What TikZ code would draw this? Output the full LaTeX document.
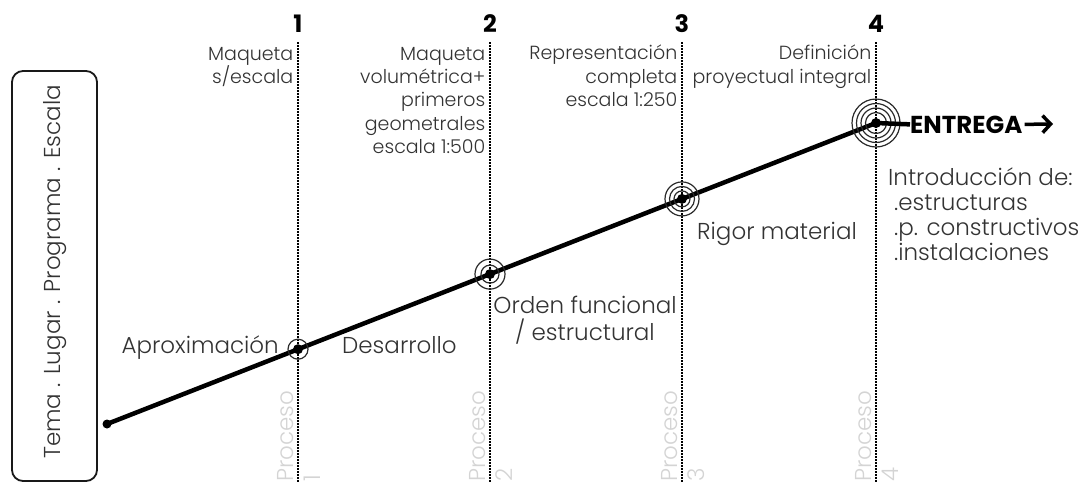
\documentclass[tikz,border=0pt]{standalone}
\usepackage{fontspec}
\setmainfont{Poppins}[UprightFont={* Light}, BoldFont={* Bold}]
\usetikzlibrary{arrows.meta}
\definecolor{labelgray}{HTML}{333333}
\definecolor{procgray}{HTML}{D4D4D4}
\definecolor{ringgray}{HTML}{2A2A2A}
\tikzset{
  lbl/.style={font=\fontsize{23}{27}\selectfont, text=labelgray, inner sep=0pt},
  toplbl/.style={font=\fontsize{19}{23.3}\selectfont, text=labelgray, align=right, anchor=north east, inner sep=0pt},
  num/.style={font=\bfseries\fontsize{24}{24}\selectfont, anchor=base, inner sep=0pt},
  proc/.style={font=\fontsize{23}{27}\selectfont, text=procgray, rotate=90, align=left, anchor=north west, inner sep=0pt},
  guide/.style={line width=2pt, dash pattern=on 1.5pt off 1.5pt},
  mainline/.style={line width=4.5pt},
  ring/.style={draw=ringgray, line width=1.2pt, circle, inner sep=0pt, minimum size=#1},
  ptdot/.style={circle, fill=black, inner sep=0pt, minimum size=#1},
}
\begin{document}
\begin{tikzpicture}[x=1pt,y=-1pt]
\useasboundingbox (0,0) rectangle (1082,483);
% left box
\node[draw=black!90, line width=1.8pt, rounded corners=11pt, minimum width=85pt, minimum height=410pt, inner sep=0pt] (box) at (54.5,276) {};
\node[lbl, rotate=90, anchor=base] (tema) at (60,272) {Tema . Lugar . Programa . Escala};
% guides
\foreach \i/\x in {1/298,2/490,3/682,4/876}{
  \coordinate (g\i t) at (\x,42);
  \coordinate (g\i b) at (\x,483);
  \draw[guide] (g\i t) -- (g\i b);
  \node[num] (n\i) at (\x,32) {\i};
  \node[proc] (pr\i) at (\x-21,482) {Proceso\\\i};
}
% top labels
\node[toplbl] (t1) at (293.5,47) {Maqueta\\s/escala};
\node[toplbl] (t2) at (485.5,47) {Maqueta\\volumétrica+\\primeros\hspace{5pt}\\geometrales\\escala 1:500};
\node[toplbl] (t3) at (677.5,45) {Representación\\completa\\escala 1:250};
\node[toplbl] (t4) at (871.5,45) {Definición\\proyectual integral};
% points
\node[ptdot=9pt] (p0) at (107,424) {};
\coordinate (p1) at (298,349.2);
\coordinate (p2) at (490,274.1);
\coordinate (p3) at (682,198.9);
\coordinate (p4) at (876,123);
\draw[mainline] (p0.center) -- (p4);
% rings
\node[ring=20pt] (r1a) at (p1) {};
\node[ring=18pt] (r2a) at (p2) {};
\node[ring=30pt] (r2b) at (p2) {};
\node[ring=16pt] (r3a) at (p3) {};
\node[ring=25pt] (r3b) at (p3) {};
\node[ring=34pt] (r3c) at (p3) {};
\node[ring=21pt] (r4a) at (p4) {};
\node[ring=30pt] (r4b) at (p4) {};
\node[ring=39pt] (r4c) at (p4) {};
\node[ring=48pt] (r4d) at (p4) {};
\foreach \i in {1,2,3,4}{ \node[ptdot=10pt] (d\i) at (p\i) {}; }
% entrega
\node[font=\bfseries\fontsize{24.5}{24.5}\selectfont, anchor=base west, inner sep=0pt] (entrega) at (910,133) {ENTREGA};
\draw[mainline] (d4.center) -- (entrega.west);
\coordinate (arrowend) at (1053,124);
\draw[line width=3.5pt, -{Straight Barb[length=8pt,width=17pt,line width=3.5pt]}] ([xshift=2pt]entrega.east) -- (arrowend);
% labels
\node[lbl, anchor=base east] (aprox) at (279,353) {Aproximación};
\node[lbl, anchor=base west] (desa) at (342,353) {Desarrollo};
\node[lbl, align=center, anchor=north] (orden) at (585,296) {Orden funcional\\/ estructural};
\node[lbl, anchor=base west] (rigor) at (697,239) {Rigor material};
\node[lbl, font=\fontsize{23}{25}\selectfont, align=left, anchor=north west] (intro) at (888,167) {Introducción de:\\\hspace{6pt}.estructuras\\\hspace{6pt}.p. constructivos\\\hspace{6pt}.instalaciones};
\end{tikzpicture}
\end{document}
